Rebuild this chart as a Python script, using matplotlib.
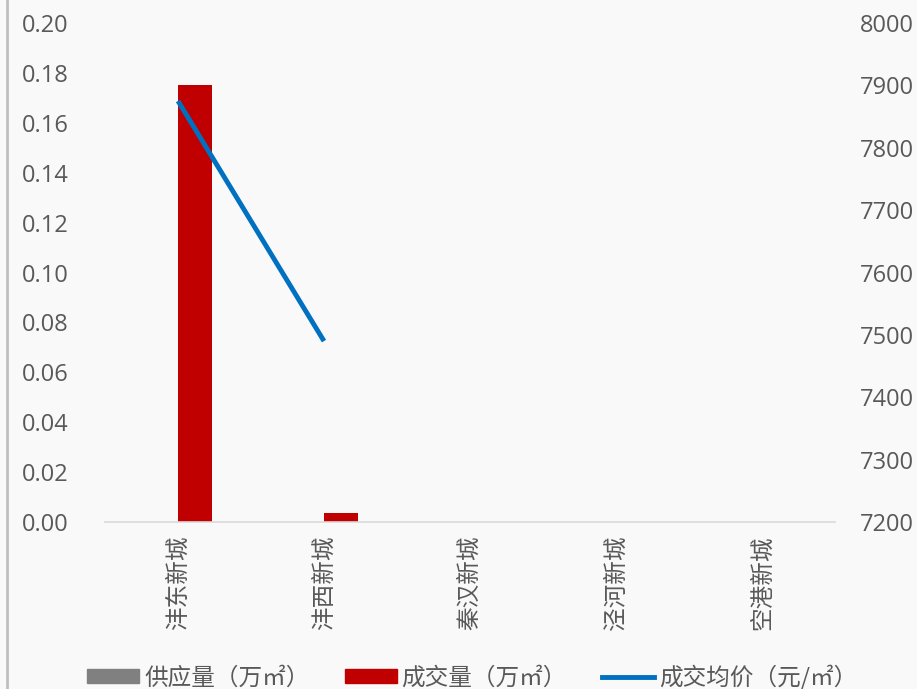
import matplotlib.pyplot as plt
import numpy as np
from matplotlib.lines import Line2D
from matplotlib.patches import Patch

plt.rcParams['font.family'] = ['Noto Sans CJK SC', 'DejaVu Sans']

# data
areas = ['沣东新城', '沣西新城', '秦汉新城', '泾河新城', '空港新城']
supply = [0, 0, 0, 0, 0]
deals = [0.175, 0.0035, 0, 0, 0]
price = [7875, 7490, None, None, None]

grey = '#595959'
bg = '#f9f9f9'
fs = 17

fig = plt.figure(figsize=(9.17, 6.89), dpi=100, facecolor=bg)
ax = fig.add_axes([105/917, 1-522/689, 730/917, (522-23)/689])
ax.set_facecolor(bg)

x = np.arange(len(areas))
w = 0.233
ax.bar(x - w/2, supply, w, color='#808080')
ax.bar(x + w/2, deals, w, color='#c00000')
ax.set_xlim(-0.5, len(areas)-0.5)
ax.set_ylim(0, 0.2)
yt = np.arange(0, 0.201, 0.02)
ax.set_yticks(yt)
ax.set_yticklabels([f'{v:.2f}' for v in yt], fontfamily='Open Sans', fontsize=fs, color=grey)
ax.set_xticks(x)
ax.set_xticklabels(areas, rotation=90, fontsize=fs, color=grey)
ax.tick_params(axis='both', length=0)
ax.tick_params(axis='x', pad=10)
ax.tick_params(axis='y', pad=26)
for s in ['top', 'right', 'left']:
    ax.spines[s].set_visible(False)
ax.spines['bottom'].set_color('#d9d9d9')
ax.spines['bottom'].set_linewidth(1.2)

ax2 = ax.twinx()
px = [i for i, p in enumerate(price) if p is not None]
py = [p for p in price if p is not None]
ax2.plot(px, py, color='#0070c0', lw=3.5, solid_capstyle='butt')
ax2.set_ylim(7200, 8000)
rt = list(range(7200, 8001, 100))
ax2.set_yticks(rt)
ax2.set_yticklabels([str(v) for v in rt], fontfamily='Open Sans', fontsize=fs, color=grey)
ax2.tick_params(axis='y', length=0, pad=18)
for s in ax2.spines.values():
    s.set_visible(False)

fig.add_artist(Line2D([7/917, 7/917], [0, 1], color='#bfbfbf', lw=2))

handles = [Patch(color='#808080'), Patch(color='#c00000'),
           Line2D([0], [0], color='#0070c0', lw=3.5)]
labels = ['供应量（万㎡）', '成交量（万㎡）', '成交均价（元/㎡）']
fig.legend(handles, labels, loc='center', bbox_to_anchor=(0.515, 12/689),
           ncol=3, frameon=False, fontsize=fs, labelcolor=grey, borderpad=0,
           handlelength=2.2, handleheight=0.55, handletextpad=0.2, columnspacing=1.5)

fig.savefig('out.png', dpi=100, facecolor=bg)
